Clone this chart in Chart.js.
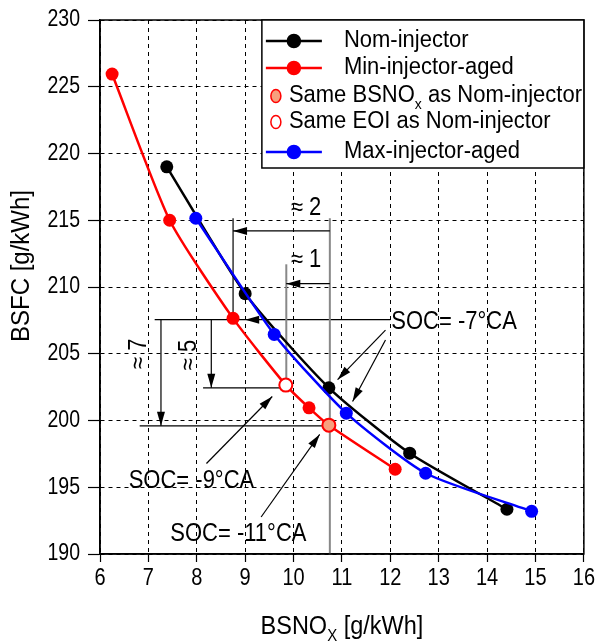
<!DOCTYPE html>
<html>
<head>
<meta charset="utf-8">
<script src="https://cdn.jsdelivr.net/npm/chart.js@4.4.0/dist/chart.umd.min.js"></script>
<style>
  html, body { margin: 0; padding: 0; background: #fff; }
</style>
</head>
<body>
<canvas id="chart" width="601" height="644"></canvas>
<script>
// Data (BSNOx in g/kWh, BSFC in g/kWh)
const nomX = [7.38, 9.0, 10.73, 12.4, 14.41];
const nomY = [219.0, 209.5, 202.45, 197.55, 193.35];

const minX = [6.25, 7.44, 8.75, 10.32, 12.1];
const minY = [225.95, 215.0, 207.65, 200.95, 196.35];

const sameNoxX = [10.73];
const sameNoxY = [199.65];

const sameEoiX = [9.84];
const sameEoiY = [202.65];

const maxX = [7.98, 9.6, 11.09, 12.73, 14.92];
const maxY = [215.15, 206.45, 200.55, 196.05, 193.2];

const xTicks = [6, 7, 8, 9, 10, 11, 12, 13, 14, 15, 16];
const yTicks = [190, 195, 200, 205, 210, 215, 220, 225, 230];

const FONT = '"Liberation Sans", Arial, sans-serif';
const ORANGE = '#F7A07E';

function toPoints(xs, ys, kind) {
    return xs.map((x, i) => ({ x: x, y: ys[i], kind: kind }));
}

// red line runs through its own points and the two special operating points
const minLine = toPoints(minX, minY, 'min')
    .concat(toPoints(sameNoxX, sameNoxY, 'nox'))
    .concat(toPoints(sameEoiX, sameEoiY, 'eoi'))
    .sort((a, b) => a.x - b.x);

// annotation geometry, in data units
const guideLines = [
    // x1, y1, x2, y2, colour, width, arrow at end
    [7.13, 207.55, 9.0, 207.55, '#000', 1.2, false],
    [12.0, 207.55, 9.0, 207.55, '#000', 1.2, true],
    [8.13, 202.45, 9.84, 202.45, '#000', 1.2, false],
    [6.82, 199.6, 10.73, 199.6, '#000', 1.2, false],
    [7.26, 207.55, 7.26, 199.6, '#000', 1.2, true],
    [8.3, 207.55, 8.3, 202.45, '#000', 1.2, true],
    [8.75, 215.15, 8.75, 207.65, '#000', 1.2, false],
    [10.75, 215.15, 10.75, 190, '#888', 2, false],
    [10.75, 214.2, 8.75, 214.2, '#000', 1.2, true],
    [9.85, 211.7, 9.85, 202.65, '#888', 2, false],
    [10.75, 210.25, 9.85, 210.25, '#000', 1.2, true],
    [11.9, 206.77, 10.91, 203.06, '#000', 1.2, true],
    [11.9, 206.03, 11.22, 201.43, '#000', 1.2, true],
    [8.2, 196.78, 9.56, 201.8, '#000', 1.2, true],
    [9.33, 192.77, 10.54, 198.96, '#000', 1.2, true]
];

const guideTexts = [
    // text, x, y, align, rotated
    ['\u2248 2', 10.26, 215.9, 'center', false],
    ['\u2248 1', 10.26, 212.0, 'center', false],
    ['\u2248 7', 6.8, 205.0, 'center', true],
    ['\u2248 5', 7.84, 204.9, 'center', true],
    ['SOC= -7\u00B0CA', 12.02, 207.4, 'left', false],
    ['SOC= -9\u00B0CA', 7.89, 195.42, 'center', false],
    ['SOC= -11\u00B0CA', 8.86, 191.48, 'center', false]
];

const legendRows = [
    { parts: [['Nom-injector']], color: '#000', fill: '#000', line: true },
    { parts: [['Min-injector-aged']], color: '#FF0000', fill: '#FF0000', line: true },
    { parts: [['Same BSNO'], ['x', 'sub'], [' as Nom-injector']], color: '#FF0000', fill: ORANGE, line: false },
    { parts: [['Same EOI as Nom-injector']], color: '#FF0000', fill: '#fff', line: false },
    { parts: [['Max-injector-aged']], color: '#0000FF', fill: '#0000FF', line: true }
];

function arrowHead(ctx, x1, y1, x2, y2) {
    const a = Math.atan2(y2 - y1, x2 - x1);
    const len = 14, half = 4;
    const bx = x2 - len * Math.cos(a), by = y2 - len * Math.sin(a);
    ctx.beginPath();
    ctx.moveTo(x2, y2);
    ctx.lineTo(bx + half * Math.sin(a), by - half * Math.cos(a));
    ctx.lineTo(bx - half * Math.sin(a), by + half * Math.cos(a));
    ctx.closePath();
    ctx.fill();
}

// the original lettering is a bit taller than it is wide, so stretch it vertically
function tallText(ctx, text, x, y, size, stretch, rotate) {
    ctx.save();
    ctx.translate(x, y);
    if (rotate) ctx.rotate(-Math.PI / 2);
    ctx.scale(1, stretch);
    ctx.font = size + 'px ' + FONT;
    ctx.fillText(text, 0, 0);
    ctx.restore();
}

// draws text made of parts, some of them subscripts; x is the left edge
function richText(ctx, parts, x, y, size, stretch) {
    let cx = x;
    parts.forEach(p => {
        const sub = p[1] === 'sub';
        const s = sub ? Math.round(size * 0.65) : size;
        ctx.font = s + 'px ' + FONT;
        const w = ctx.measureText(p[0]).width;
        tallText(ctx, p[0], cx, sub ? y + size * 0.4 : y, s, stretch, false);
        cx += w;
    });
}

function richWidth(ctx, parts, size) {
    let w = 0;
    parts.forEach(p => {
        ctx.font = (p[1] === 'sub' ? Math.round(size * 0.65) : size) + 'px ' + FONT;
        w += ctx.measureText(p[0]).width;
    });
    return w;
}

const annotations = {
    id: 'annotations',
    beforeDatasetsDraw(chart) {
        const ctx = chart.ctx;
        const xs = chart.scales.x, ys = chart.scales.y;
        ctx.save();
        guideLines.forEach(g => {
            const x1 = xs.getPixelForValue(g[0]), y1 = ys.getPixelForValue(g[1]);
            const x2 = xs.getPixelForValue(g[2]), y2 = ys.getPixelForValue(g[3]);
            ctx.strokeStyle = g[4];
            ctx.fillStyle = g[4];
            ctx.lineWidth = g[5];
            ctx.beginPath();
            ctx.moveTo(x1, y1);
            ctx.lineTo(x2, y2);
            ctx.stroke();
            if (g[6]) arrowHead(ctx, x1, y1, x2, y2);
        });
        ctx.fillStyle = '#000';
        ctx.textBaseline = 'middle';
        guideTexts.forEach(t => {
            const px = xs.getPixelForValue(t[1]), py = ys.getPixelForValue(t[2]);
            ctx.textAlign = t[3];
            tallText(ctx, t[0], px, py, 22, 1.13, t[4]);
        });
        ctx.restore();
    },
    afterDraw(chart) {
        const ctx = chart.ctx;
        const a = chart.chartArea;
        const xs = chart.scales.x, ys = chart.scales.y;
        ctx.save();
        // frame
        ctx.strokeStyle = '#000';
        ctx.lineWidth = 1.5;
        ctx.strokeRect(a.left, a.top, a.right - a.left, a.bottom - a.top);

        // tick labels
        ctx.fillStyle = '#000';
        ctx.textBaseline = 'middle';
        ctx.textAlign = 'right';
        ys.ticks.forEach(t => {
            tallText(ctx, String(t.value), a.left - 20, ys.getPixelForValue(t.value), 19.5, 1.18, false);
        });
        ctx.textAlign = 'center';
        xs.ticks.forEach(t => {
            tallText(ctx, String(t.value), xs.getPixelForValue(t.value), a.bottom + 25, 20, 1.15, false);
        });

        // legend box
        const w = 322, h = 148;
        const x0 = a.right - w, y0 = a.top;
        ctx.fillStyle = '#fff';
        ctx.fillRect(x0, y0, w, h);
        ctx.strokeRect(x0, y0, w, h);
        const rowY = [21, 48, 76, 102, 132];
        ctx.textAlign = 'left';
        ctx.textBaseline = 'middle';
        legendRows.forEach((r, i) => {
            const y = y0 + rowY[i];
            let cx, tx;
            if (r.line) {
                ctx.strokeStyle = r.color;
                ctx.lineWidth = 2.5;
                ctx.beginPath();
                ctx.moveTo(x0 + 4, y);
                ctx.lineTo(x0 + 60, y);
                ctx.stroke();
                cx = x0 + 32;
                tx = x0 + 82;
            } else {
                cx = x0 + 14;
                tx = x0 + 27;
            }
            ctx.fillStyle = r.fill;
            ctx.strokeStyle = r.color;
            ctx.lineWidth = 1.5;
            ctx.beginPath();
            if (r.line) ctx.arc(cx, y, 6.5, 0, Math.PI * 2);
            else ctx.ellipse(cx, y, 5, 6.5, 0, 0, Math.PI * 2);
            ctx.fill();
            ctx.stroke();
            ctx.fillStyle = '#000';
            richText(ctx, r.parts, tx, y, 22, 1.06);
        });

        // axis titles
        ctx.fillStyle = '#000';
        const xt = [['BSNO'], ['X', 'sub'], [' [g/kWh]']];
        const xw = richWidth(ctx, xt, 23.5);
        richText(ctx, xt, (a.left + a.right) / 2 - xw / 2, 627, 23.5, 1.1);
        ctx.textAlign = 'center';
        tallText(ctx, 'BSFC [g/kWh]', 22, 266, 24, 1.1, true);
        ctx.restore();
    }
};

new Chart(document.getElementById('chart'), {
    type: 'scatter',
    data: {
        datasets: [
            {
                label: 'Same EOI as Nom-injector',
                data: toPoints(sameEoiX, sameEoiY, 'eoi'),
                backgroundColor: '#fff',
                borderColor: '#FF0000',
                borderWidth: 2,
                pointRadius: 6.5,
                order: 1
            },
            {
                label: 'Same BSNOx as Nom-injector',
                data: toPoints(sameNoxX, sameNoxY, 'nox'),
                backgroundColor: ORANGE,
                borderColor: '#FF0000',
                borderWidth: 2,
                pointRadius: 6.5,
                order: 2
            },
            {
                label: 'Max-injector-aged',
                data: toPoints(maxX, maxY, 'max'),
                showLine: true,
                tension: 0.2,
                borderColor: '#0000FF',
                backgroundColor: '#0000FF',
                borderWidth: 2.5,
                pointRadius: 6.5,
                pointBorderWidth: 0,
                order: 3
            },
            {
                label: 'Min-injector-aged',
                data: minLine,
                showLine: true,
                tension: 0.2,
                borderColor: '#FF0000',
                backgroundColor: '#FF0000',
                borderWidth: 2.5,
                pointRadius: ctx => (ctx.raw && ctx.raw.kind === 'min') ? 6.5 : 0,
                pointBorderWidth: 0,
                order: 4
            },
            {
                label: 'Nom-injector',
                data: toPoints(nomX, nomY, 'nom'),
                showLine: true,
                tension: 0.2,
                borderColor: '#000',
                backgroundColor: '#000',
                borderWidth: 2.5,
                pointRadius: 6.5,
                pointBorderWidth: 0,
                order: 5
            }
        ]
    },
    options: {
        responsive: false,
        animation: false,
        layout: { padding: { top: 15, right: 16, left: 0, bottom: 0 } },
        plugins: {
            legend: { display: false },
            tooltip: { enabled: false }
        },
        scales: {
            x: {
                type: 'linear',
                min: 6,
                max: 16,
                afterFit: s => { s.height = 90; },
                afterBuildTicks: s => { s.ticks = xTicks.map(v => ({ value: v })); },
                ticks: {
                    color: 'rgba(0,0,0,0)',
                    font: { family: FONT, size: 20 },
                    padding: 6
                },
                grid: {
                    color: '#000',
                    lineWidth: 1,
                    tickLength: 8,
                    tickColor: '#000',
                    tickWidth: 1.2
                },
                border: { color: '#000', width: 1.5, dash: [4, 4] }
            },
            y: {
                type: 'linear',
                min: 190,
                max: 230,
                afterFit: s => { s.width = 100; },
                afterBuildTicks: s => { s.ticks = yTicks.map(v => ({ value: v })); },
                ticks: {
                    color: 'rgba(0,0,0,0)',
                    font: { family: FONT, size: 20 },
                    padding: 8
                },
                grid: {
                    color: '#000',
                    lineWidth: 1,
                    tickLength: 12,
                    tickColor: '#000',
                    tickWidth: 1.2
                },
                border: { color: '#000', width: 1.5, dash: [4, 4] }
            }
        }
    },
    plugins: [annotations]
});
</script>
</body>
</html>
